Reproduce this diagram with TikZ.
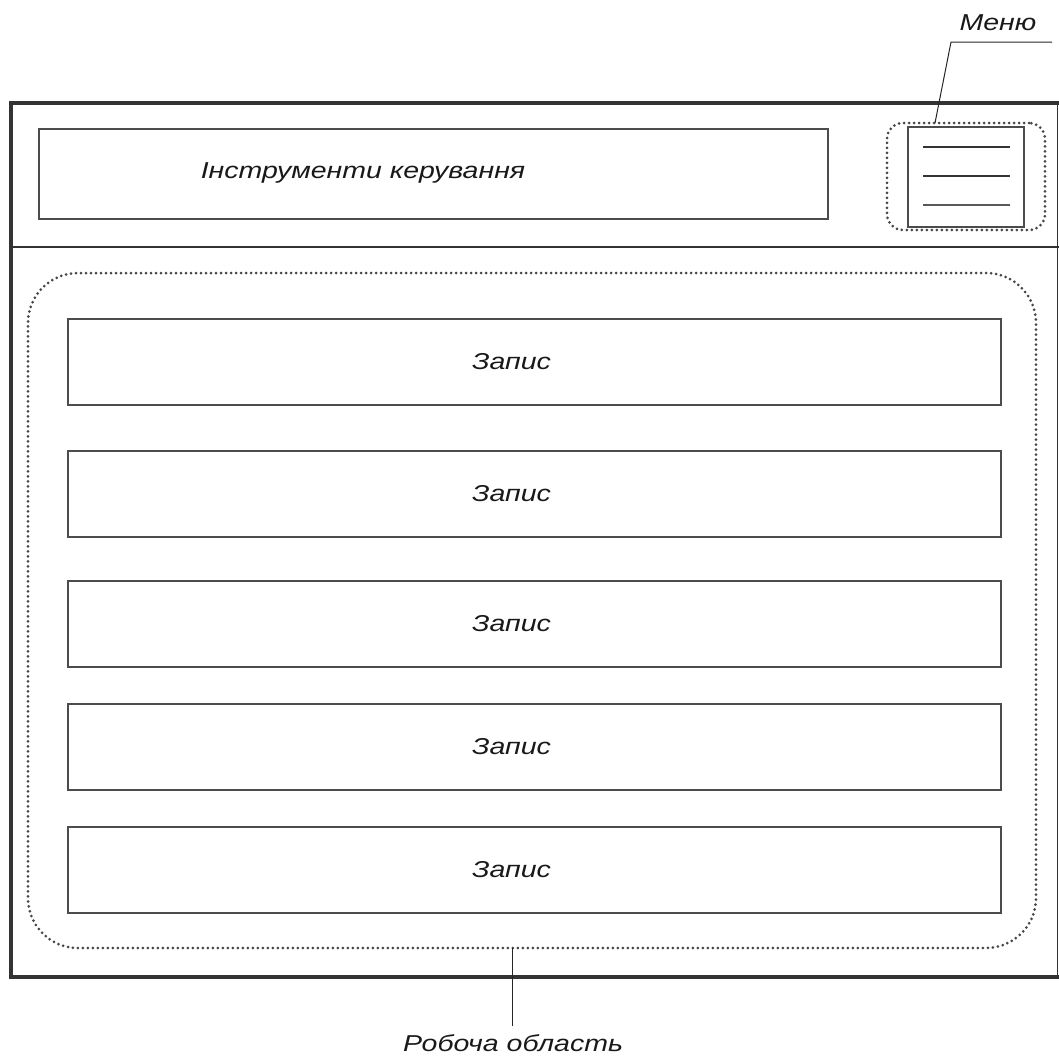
\documentclass[tikz,border=0pt]{standalone}
\usepackage{fontspec}
\setmainfont{Liberation Sans}
\begin{document}
\begin{tikzpicture}[x=1pt,y=-1pt,
  frameline/.style={draw=black!80,line width=4.5pt},
  sepline/.style={draw=black!80,line width=2pt},
  boxline/.style={draw=black!70,line width=2pt},
  dotline/.style={draw=black!72,line width=3pt,line cap=round,dash pattern=on 0pt off 5pt},
  leader/.style={draw=black!85,line width=1pt},
  lbl/.style={font=\fontsize{23}{27}\selectfont\itshape,text=black!90,inner sep=0pt},
  recbox/.style={boxline,rectangle,minimum width=933pt,minimum height=86pt,inner sep=0pt}]
\newcommand{\stretchtxt}[1]{\scalebox{1.24}[1]{#1}}
\useasboundingbox (0,0) rectangle (1059,1060);
% outer frame
\draw[frameline] (1059,103) -- (11,103) -- (11,977) -- (1059,977);
\draw[draw=black!80,line width=1.2pt] (1057.5,103) -- (1057.5,977);
\draw[sepline] (11,247) -- (1059,247);
% header
\node[boxline,rectangle,minimum width=789pt,minimum height=90pt,inner sep=0pt] (tools) at (433.5,174) {};
\node[lbl] (toolslbl) at (363,173) {\stretchtxt{Інструменти керування}};
% menu
\node[rectangle,rounded corners=16pt,dotline,minimum width=158pt,minimum height=107pt,inner sep=0pt] (menuarea) at (966,176.5) {};
\node[boxline,rectangle,minimum width=116pt,minimum height=100pt,inner sep=0pt] (menubtn) at (966,177) {};
\coordinate (m1a) at (923,147); \coordinate (m1b) at (1010,147);
\coordinate (m2a) at (923,176); \coordinate (m2b) at (1010,176);
\coordinate (m3a) at (923,205); \coordinate (m3b) at (1010,205);
\draw[draw=black!80,line width=1.3pt] (m1a) -- (m1b);
\draw[draw=black!80,line width=1.3pt] (m2a) -- (m2b);
\draw[draw=black!65,line width=1.3pt] (m3a) -- (m3b);
\node[lbl,anchor=center] (menulbl) at (998,23) {\stretchtxt{Меню}};
\coordinate (mlend) at (1052,42);
\coordinate (mlknee) at (951,42);
\coordinate (mltip) at (935,123);
\draw[leader] (mlend) -- (mlknee) -- (mltip);
% workspace
\node[rectangle,rounded corners=50pt,dotline,minimum width=1008pt,minimum height=675pt,inner sep=0pt] (work) at (532,610.5) {};
\node[recbox] (r1) at (534.5,361.5) {};
\node[recbox] (r2) at (534.5,493.5) {};
\node[recbox] (r3) at (534.5,623.5) {};
\node[recbox] (r4) at (534.5,746.5) {};
\node[recbox] (r5) at (534.5,870) {};
\node[lbl] (t1) at (511.5,361.5) {\stretchtxt{Запис}};
\node[lbl] (t2) at (511.5,493.5) {\stretchtxt{Запис}};
\node[lbl] (t3) at (511.5,623.5) {\stretchtxt{Запис}};
\node[lbl] (t4) at (511.5,746.5) {\stretchtxt{Запис}};
\node[lbl] (t5) at (511.5,870) {\stretchtxt{Запис}};
% workspace label
\node[lbl,anchor=center] (worklbl) at (513,1043) {\stretchtxt{Робоча область}};
\coordinate (wtop) at (512,948);
\coordinate (wbot) at (512,1026);
\draw[leader] (wtop) -- (wbot);
\end{tikzpicture}
\end{document}
